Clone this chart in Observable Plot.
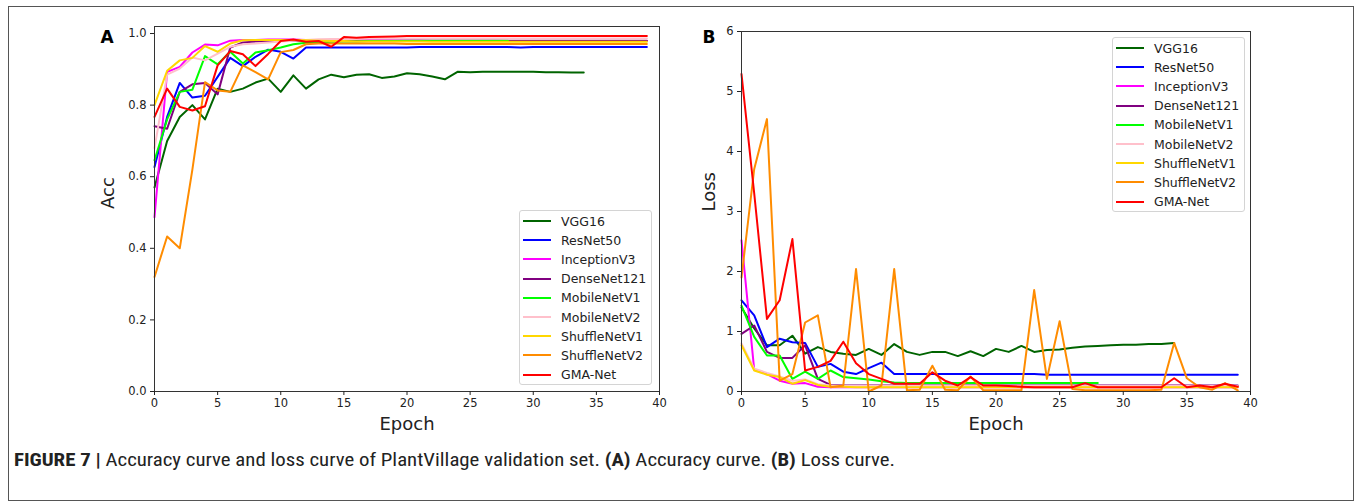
<!DOCTYPE html>
<html><head><meta charset="utf-8">
<script src="https://cdn.jsdelivr.net/npm/d3@7"></script>
<script src="https://cdn.jsdelivr.net/npm/@observablehq/plot@0.6"></script>
<style>
body{margin:0;background:#fff;}
#wrap{position:relative;width:1357px;height:502px;overflow:hidden;font-family:'DejaVu Sans',sans-serif;background:#fff;}
#border{position:absolute;left:8px;top:6px;width:1346px;height:495px;border:1.5px solid #555;box-sizing:border-box;}
.panel{position:absolute;top:0;}
.legend{position:absolute;width:133px;height:175px;background:rgba(255,255,255,0.85);border:1px solid #d4d4d4;border-radius:3px;box-sizing:border-box;}
.row{position:absolute;left:0;height:16px;display:flex;align-items:center;font-size:12.5px;color:#222;white-space:nowrap;font-family:'DejaVu Sans',sans-serif;}
.row svg{margin-left:3px;margin-right:10px;}
#caption{position:absolute;left:0;top:440px;}
</style></head>
<body><div id="wrap"><div id="border"></div></div>
<script>
const names = ["VGG16","ResNet50","InceptionV3","DenseNet121","MobileNetV1","MobileNetV2","ShuffleNetV1","ShuffleNetV2","GMA-Net"];
const colors = ["#006400","#0000ff","#ff00ff","#800080","#00ff00","#ffc0cb","#ffd700","#ff8c00","#ff0000"];
const xTicks = [0,5,10,15,20,25,30,35,40];
const accTicks = [0,0.2,0.4,0.6,0.8,1.0];
const lossTicks = [0,1,2,3,4,5,6];

// Accuracy (panel A), index = epoch
const accVGG16 = [0.57,0.70,0.767,0.80,0.76,0.846,0.837,0.846,0.863,0.874,0.837,0.883,0.846,0.872,0.885,0.878,0.885,0.886,0.876,0.880,0.889,0.886,0.880,0.872,0.893,0.892,0.893,0.893,0.893,0.893,0.893,0.892,0.892,0.891,0.891];
const accResNet50 = [0.627,0.767,0.862,0.821,0.826,0.879,0.932,0.909,0.935,0.955,0.949,0.930,0.961,0.961,0.961,0.961,0.961,0.961,0.961,0.961,0.961,0.962,0.962,0.962,0.962,0.962,0.962,0.962,0.962,0.961,0.962,0.962,0.962,0.962,0.962,0.962,0.962,0.962,0.962,0.962];
const accInceptionV3 = [0.487,0.893,0.907,0.947,0.969,0.967,0.980,0.982,0.982,0.983,0.983,0.983,0.982,0.982,0.982,0.982,0.982,0.981,0.981,0.981,0.981,0.981,0.980,0.980,0.980,0.980,0.980,0.980,0.979,0.979,0.979,0.979,0.979,0.979,0.979,0.979,0.979,0.979,0.979,0.979];
const accDenseNet121 = [0.741,0.734,0.837,0.858,0.862,0.830,0.961,0.975,0.978,0.979,0.979,0.980,0.980,0.980,0.980,0.980,0.980,0.980,0.980,0.980,0.980,0.980,0.980,0.980,0.980,0.980,0.980,0.980,0.980,0.980,0.980,0.980,0.980,0.980,0.980,0.980,0.980,0.980,0.980,0.980];
const accMobileNetV1 = [0.646,0.760,0.837,0.843,0.937,0.914,0.949,0.916,0.947,0.953,0.961,0.970,0.974,0.975,0.977,0.978,0.978,0.979,0.979,0.979,0.980,0.980,0.980,0.980,0.980,0.980,0.980,0.980,0.980];
const accMobileNetV2 = [0.68,0.885,0.902,0.933,0.925,0.944,0.963,0.970,0.972,0.975,0.978,0.980,0.982,0.984,0.985,0.985,0.985,0.986,0.986,0.986,0.986,0.986,0.986,0.986,0.986,0.986,0.986,0.986,0.986,0.986,0.986,0.986,0.986,0.986,0.986,0.986,0.986,0.986,0.986,0.986];
const accShuffleNetV1 = [0.800,0.896,0.925,0.932,0.965,0.949,0.972,0.981,0.982,0.982,0.982,0.982,0.981,0.980,0.979,0.979,0.978,0.978,0.978,0.978,0.978,0.978,0.977,0.977,0.977,0.977,0.977,0.977,0.977,0.977,0.977,0.977,0.977,0.977,0.977,0.977,0.977,0.977,0.977,0.977];
const accShuffleNetV2 = [0.320,0.433,0.400,0.62,0.864,0.841,0.837,0.911,0.892,0.872,0.948,0.954,0.970,0.972,0.972,0.972,0.972,0.972,0.972,0.972,0.971,0.971,0.971,0.971,0.971,0.971,0.971,0.971,0.971,0.971,0.971,0.971,0.971,0.971,0.971,0.971,0.971,0.971,0.971,0.971];
const accGMANet = [0.767,0.846,0.795,0.785,0.797,0.911,0.951,0.942,0.909,0.943,0.979,0.983,0.977,0.979,0.963,0.990,0.988,0.990,0.991,0.992,0.993,0.993,0.993,0.993,0.993,0.993,0.993,0.993,0.993,0.993,0.993,0.993,0.993,0.993,0.993,0.993,0.993,0.993,0.993,0.993];

// Loss (panel B), index = epoch
const lossVGG16 = [1.40,1.05,0.77,0.77,0.93,0.63,0.74,0.66,0.63,0.61,0.71,0.61,0.79,0.66,0.61,0.66,0.66,0.59,0.67,0.59,0.71,0.66,0.76,0.66,0.69,0.70,0.73,0.75,0.76,0.77,0.78,0.78,0.79,0.79,0.81];
const lossResNet50 = [1.52,1.27,0.74,0.88,0.82,0.81,0.41,0.46,0.33,0.29,0.39,0.48,0.29,0.29,0.29,0.29,0.29,0.29,0.29,0.29,0.29,0.29,0.29,0.29,0.28,0.28,0.28,0.28,0.28,0.28,0.28,0.28,0.28,0.28,0.28,0.28,0.28,0.28,0.28,0.28];
const lossInceptionV3 = [2.52,0.36,0.29,0.18,0.13,0.14,0.08,0.07,0.07,0.07,0.07,0.07,0.07,0.07,0.07,0.07,0.07,0.07,0.07,0.07,0.07,0.07,0.07,0.07,0.07,0.07,0.07,0.07,0.07,0.07,0.07,0.07,0.07,0.07,0.07,0.07,0.07,0.07,0.07,0.07];
const lossDenseNet121 = [0.96,1.10,0.66,0.56,0.56,0.77,0.21,0.11,0.10,0.10,0.10,0.10,0.10,0.10,0.10,0.10,0.10,0.10,0.10,0.10,0.10,0.10,0.10,0.10,0.10,0.10,0.10,0.10,0.10,0.10,0.10,0.10,0.10,0.10,0.10,0.10,0.10,0.10,0.10,0.10];
const lossMobileNetV1 = [1.43,0.91,0.60,0.60,0.21,0.33,0.21,0.35,0.24,0.22,0.20,0.17,0.15,0.14,0.14,0.14,0.14,0.14,0.14,0.14,0.14,0.14,0.14,0.14,0.14,0.14,0.14,0.14,0.14];
const lossMobileNetV2 = [0.80,0.38,0.31,0.25,0.18,0.20,0.12,0.10,0.09,0.09,0.09,0.09,0.09,0.09,0.09,0.09,0.09,0.09,0.09,0.09,0.09,0.09,0.09,0.09,0.09,0.09,0.09,0.09,0.09,0.09,0.09,0.09,0.09,0.09,0.09,0.09,0.09,0.09,0.09,0.09];
const lossShuffleNetV1 = [0.77,0.35,0.28,0.24,0.13,0.19,0.11,0.08,0.08,0.07,0.07,0.07,0.07,0.07,0.07,0.07,0.07,0.07,0.07,0.07,0.07,0.07,0.07,0.07,0.07,0.07,0.07,0.07,0.07,0.07,0.07,0.07,0.07,0.07,0.07,0.07,0.07,0.07,0.07,0.07];
const lossShuffleNetV2 = [1.90,3.71,4.54,0.18,0.29,1.15,1.27,0.07,0.10,2.04,0.00,0.10,2.04,0.02,0.03,0.43,0.03,0.02,0.25,0.02,0.02,0.02,0.02,1.69,0.21,1.17,0.04,0.02,0.02,0.02,0.02,0.02,0.02,0.03,0.81,0.22,0.07,0.03,0.14,0.02];
const lossGMANet = [5.29,3.30,1.21,1.52,2.54,0.35,0.41,0.51,0.83,0.47,0.29,0.21,0.13,0.13,0.13,0.32,0.18,0.10,0.24,0.10,0.10,0.09,0.08,0.07,0.07,0.07,0.07,0.14,0.07,0.07,0.07,0.07,0.07,0.07,0.22,0.07,0.10,0.07,0.13,0.08];

const accSeries = [accVGG16,accResNet50,accInceptionV3,accDenseNet121,accMobileNetV1,accMobileNetV2,accShuffleNetV1,accShuffleNetV2,accGMANet];
const lossSeries = [lossVGG16,lossResNet50,lossInceptionV3,lossDenseNet121,lossMobileNetV1,lossMobileNetV2,lossShuffleNetV1,lossShuffleNetV2,lossGMANet];

const wrap = document.getElementById("wrap");

function toRows(series){
  const rows = [];
  names.forEach((n,i)=>series[i].forEach((v,e)=>rows.push({epoch:e,value:v,model:n})));
  return rows;
}

function panel(cfg){
  const data = toRows(cfg.series);
  const chart = Plot.plot({
    width: cfg.width, height: 440,
    marginLeft: cfg.ml, marginRight: cfg.mr, marginTop: cfg.mt, marginBottom: 49,
    style: {fontFamily:"'DejaVu Sans', sans-serif", fontSize:"11.5px", color:"#222", background:"transparent", overflow:"visible"},
    x: {domain:[0,40]},
    y: {domain: cfg.yDomain},
    color: {domain: names, range: colors},
    marks: [
      Plot.line(data, {x:"epoch", y:"value", z:"model", stroke:"model", strokeWidth:2}),
      Plot.frame({stroke:"#333", strokeWidth:1}),
      Plot.axisX({ticks:xTicks, tickSize:4, tickPadding:3, label:null, stroke:"#222"}),
      Plot.axisY({ticks:cfg.yTicks, tickFormat:cfg.fmt, tickSize:4, tickPadding:4, label:null, stroke:"#222"}),
      Plot.text(["Epoch"], {text:d=>d, frameAnchor:"bottom", dy:38, fontSize:18, fill:"#222"}),
      Plot.text([cfg.yLabel], {text:d=>d, frameAnchor:"left", rotate:-90, dx:cfg.ylDx, fontSize:18, fill:"#222"}),
      Plot.text([cfg.letter], {text:d=>d, frameAnchor:"top-left", textAnchor:"start", lineAnchor:"bottom", dx:cfg.letDx, dy:cfg.letDy, fontSize:17, fontWeight:"bold", fill:"#000"})
    ]
  });
  chart.classList.add("panel");
  chart.style.left = cfg.left + "px";
  wrap.appendChild(chart);
}

panel({series:accSeries, width:680, left:0, ml:154, mr:21, mt:26, yDomain:[0,1.0196], yTicks:accTicks, fmt:d3.format(".1f"), yLabel:"Acc", ylDx:-46, letter:"A", letDx:-54, letDy:16});
panel({series:lossSeries, width:677, left:680, ml:61, mr:107, mt:31, yDomain:[0,6], yTicks:lossTicks, fmt:d3.format("d"), yLabel:"Loss", ylDx:-32, letter:"B", letDx:-39, letDy:11});

function legend(left, top){
  const box = document.createElement("div");
  box.className = "legend";
  box.style.left = left + "px";
  box.style.top = top + "px";
  names.forEach((n,i)=>{
    const row = document.createElement("div");
    row.className = "row";
    row.style.top = (2 + i*19.2) + "px";
    row.innerHTML = `<svg width="28" height="4"><line x1="0" x2="28" y1="2" y2="2" stroke="${colors[i]}" stroke-width="2"/></svg><span>${n}</span>`;
    box.appendChild(row);
  });
  wrap.appendChild(box);
}
legend(519, 210);
legend(1112, 37);

const cap = document.createElementNS("http://www.w3.org/2000/svg","svg");
cap.setAttribute("id","caption");
cap.setAttribute("width","1357");
cap.setAttribute("height","60");
cap.innerHTML = `<text x="14" y="26" textLength="881" lengthAdjust="spacingAndGlyphs" font-family="'Roboto Condensed','Liberation Sans',sans-serif" font-size="18" fill="#222"><tspan font-weight="bold">FIGURE 7 |</tspan> Accuracy curve and loss curve of PlantVillage validation set. <tspan font-weight="bold">(A)</tspan> Accuracy curve. <tspan font-weight="bold">(B)</tspan> Loss curve.</text>`;
wrap.appendChild(cap);
</script>
</body></html>
